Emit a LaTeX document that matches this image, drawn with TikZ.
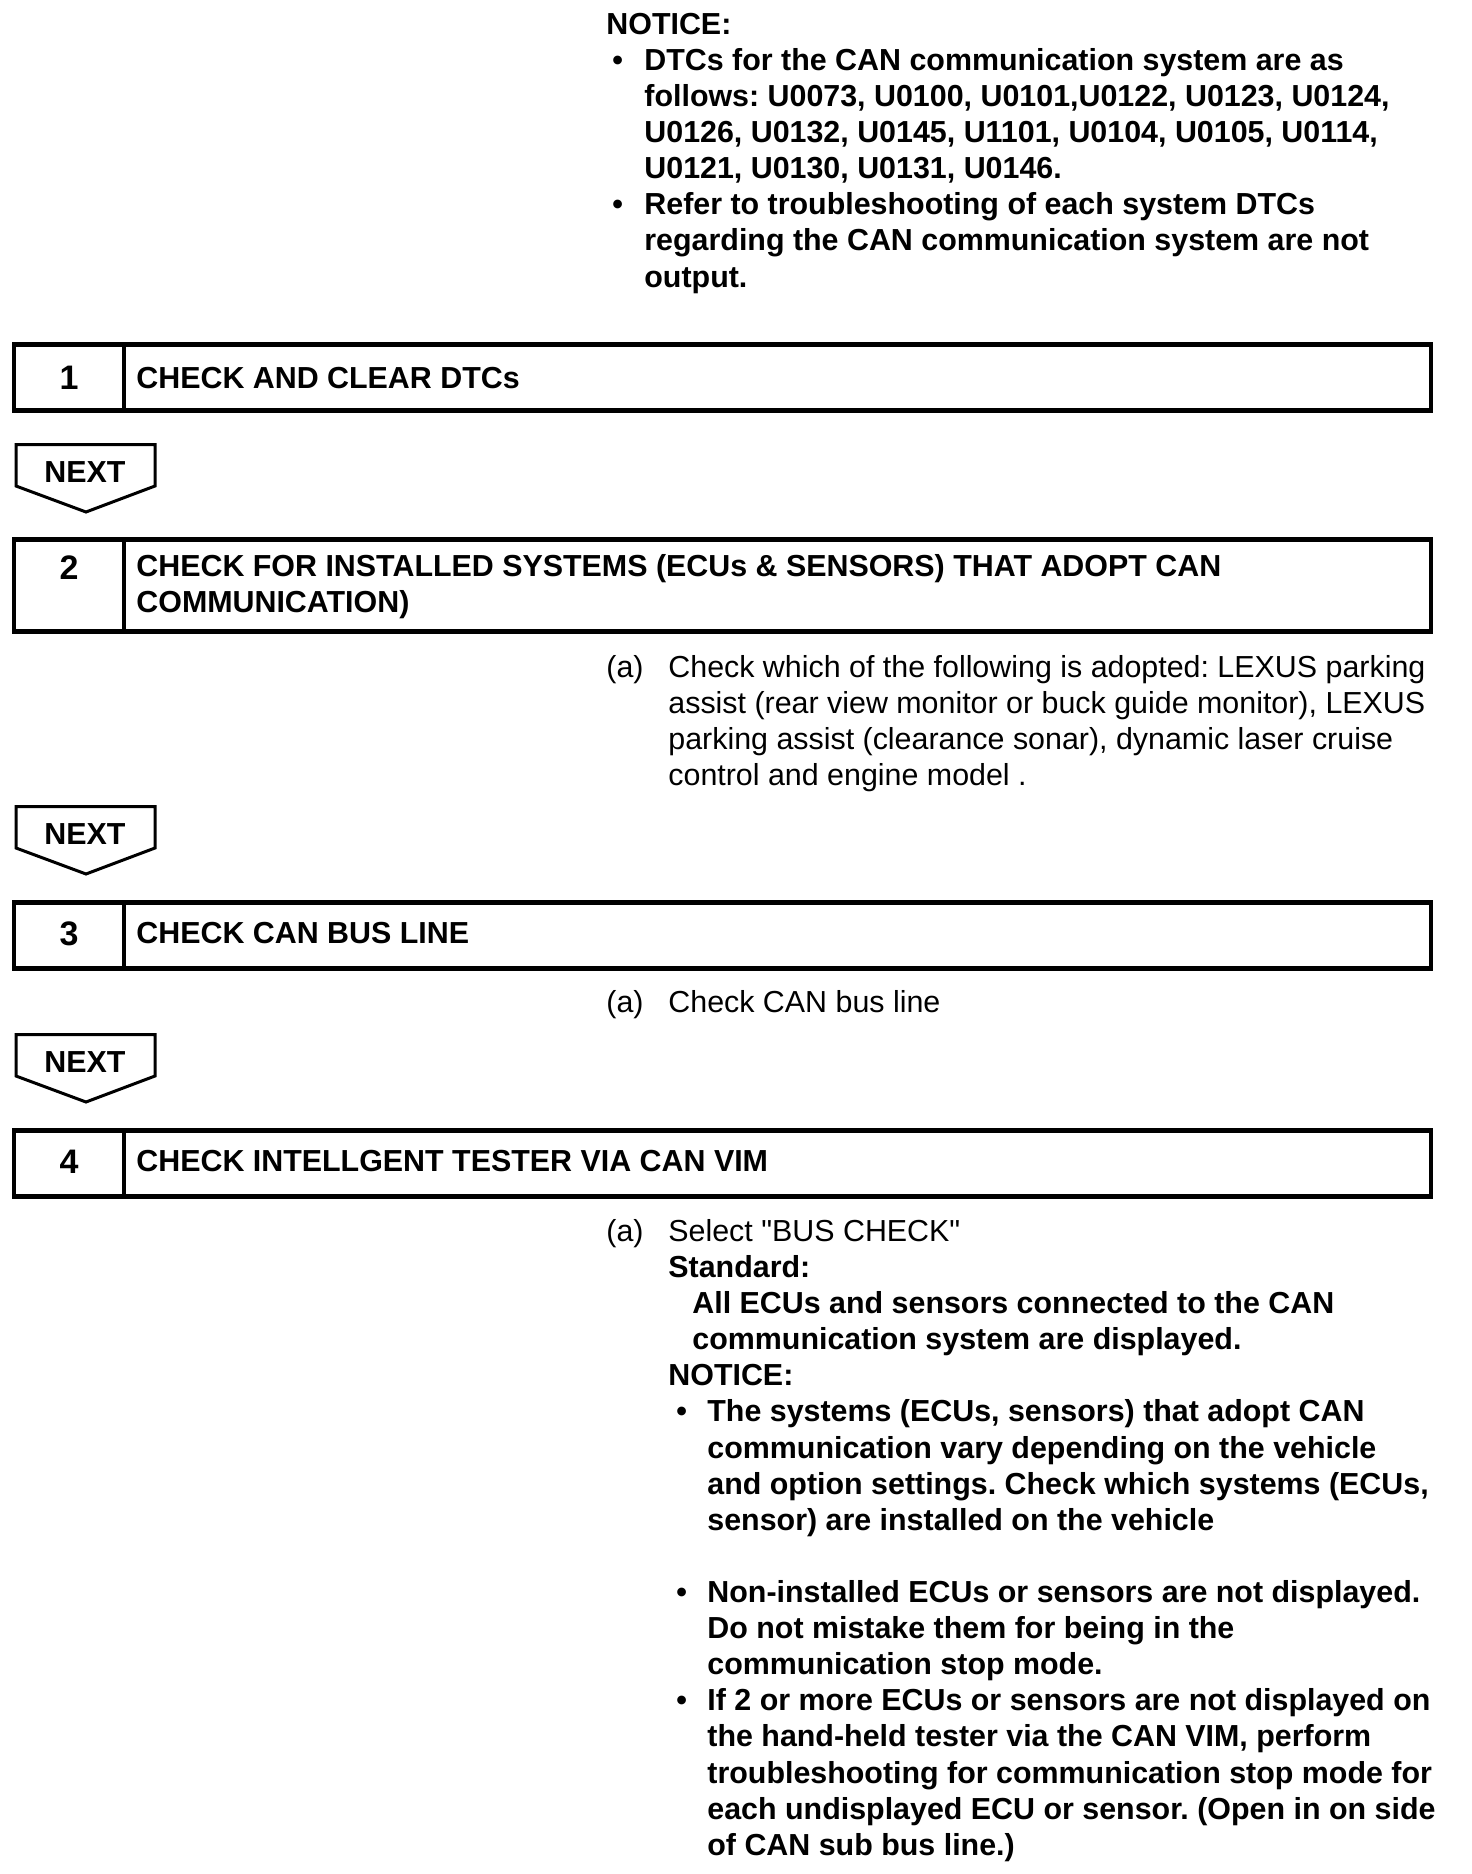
\documentclass[tikz,border=0pt]{standalone}
\usepackage{fontspec}
\setmainfont{Liberation Sans}[Ligatures=TeXOff]
\frenchspacing
\tikzset{
  frame/.style={line width=2.4pt, line join=miter},
  divider/.style={line width=2pt},
  nextshape/.style={line width=1.5pt, line join=miter},
  bt/.style={anchor=base west, inner sep=0pt, font=\bfseries\fontsize{15.2pt}{18pt}\selectfont},
  rt/.style={anchor=base west, inner sep=0pt, font=\fontsize{15.2pt}{18pt}\selectfont},
  num/.style={anchor=base, inner sep=0pt, font=\bfseries\fontsize{17pt}{18pt}\selectfont},
  nexttext/.style={anchor=base, inner sep=0pt, font=\bfseries\fontsize{15.2pt}{18pt}\selectfont},
}
\begin{document}
\begin{tikzpicture}[x=0.5pt,y=-0.5pt]
\useasboundingbox (0,0) rectangle (1472,1874);
% top notice
\node[bt] (n0) at (606,34) {NOTICE:};
\node[bt] (nb1) at (612,70) {•};
\node[bt] (n1) at (644,70) {DTCs for the CAN communication system are as};
\node[bt] (n2) at (644,106) {follows: U0073, U0100, U0101,U0122, U0123, U0124,};
\node[bt] (n3) at (644,142) {U0126, U0132, U0145, U1101, U0104, U0105, U0114,};
\node[bt] (n4) at (644,178) {U0121, U0130, U0131, U0146.};
\node[bt] (nb2) at (612,214) {•};
\node[bt] (n5) at (644,214) {Refer to troubleshooting of each system DTCs};
\node[bt] (n6) at (644,250) {regarding the CAN communication system are not};
\node[bt] (n7) at (644,287) {output.};
% step 1
\draw[frame] (14,344.5) rectangle (1431,410.5);
\draw[divider] (124,344.5) -- (124,410.5);
\node[num] (s1) at (69,389) {1};
\node[bt] (h1) at (136,388) {CHECK AND CLEAR DTCs};
% next 1
\draw[nextshape] (16,444.5) -- (155,444.5) -- (155,486) -- (86,512) -- (16,486) -- cycle;
\node[nexttext] (x1) at (85,482) {NEXT};
% step 2
\draw[frame] (14,539.5) rectangle (1431,631.5);
\draw[divider] (124,539.5) -- (124,631.5);
\node[num] (s2) at (69,579) {2};
\node[bt] (h2a) at (136,576) {CHECK FOR INSTALLED SYSTEMS (ECUs \& SENSORS) THAT ADOPT CAN};
\node[bt] (h2b) at (136,612) {COMMUNICATION)};
\node[rt] (a2) at (606,677) {(a)};
\node[rt] (a2l1) at (668,677) {Check which of the following is adopted: LEXUS parking};
\node[rt] (a2l2) at (668,713) {assist (rear view monitor or buck guide monitor), LEXUS};
\node[rt] (a2l3) at (668,749) {parking assist (clearance sonar), dynamic laser cruise};
\node[rt] (a2l4) at (668,785) {control and engine model .};
% next 2
\draw[nextshape] (16,806.5) -- (155,806.5) -- (155,848) -- (86,874) -- (16,848) -- cycle;
\node[nexttext] (x2) at (85,844) {NEXT};
% step 3
\draw[frame] (14,902.5) rectangle (1431,968.5);
\draw[divider] (124,902.5) -- (124,968.5);
\node[num] (s3) at (69,945) {3};
\node[bt] (h3) at (136,943) {CHECK CAN BUS LINE};
\node[rt] (a3) at (606,1012) {(a)};
\node[rt] (a3l1) at (668,1012) {Check CAN bus line};
% next 3
\draw[nextshape] (16,1034.5) -- (155,1034.5) -- (155,1076) -- (86,1102) -- (16,1076) -- cycle;
\node[nexttext] (x3) at (85,1072) {NEXT};
% step 4
\draw[frame] (14,1130.5) rectangle (1431,1196.5);
\draw[divider] (124,1130.5) -- (124,1196.5);
\node[num] (s4) at (69,1173) {4};
\node[bt] (h4) at (136,1171) {CHECK INTELLGENT TESTER VIA CAN VIM};
\node[rt] (a4) at (606,1241) {(a)};
\node[rt] (a4l1) at (668,1241) {Select "BUS CHECK"};
\node[bt] (a4l2) at (668,1277) {Standard:};
\node[bt] (a4l3) at (692,1313) {All ECUs and sensors connected to the CAN};
\node[bt] (a4l4) at (692,1349) {communication system are displayed.};
\node[bt] (a4l5) at (668,1385) {NOTICE:};
\node[bt] (m1b) at (676,1421) {•};
\node[bt] (m1a) at (707,1421) {The systems (ECUs, sensors) that adopt CAN};
\node[bt] (m1c) at (707,1458) {communication vary depending on the vehicle};
\node[bt] (m1d) at (707,1494) {and option settings. Check which systems (ECUs,};
\node[bt] (m1e) at (707,1530) {sensor) are installed on the vehicle};
\node[bt] (m2b) at (676,1602) {•};
\node[bt] (m2a) at (707,1602) {Non-installed ECUs or sensors are not displayed.};
\node[bt] (m2c) at (707,1638) {Do not mistake them for being in the};
\node[bt] (m2d) at (707,1674) {communication stop mode.};
\node[bt] (m3b) at (676,1710) {•};
\node[bt] (m3a) at (707,1710) {If 2 or more ECUs or sensors are not displayed on};
\node[bt] (m3c) at (707,1746) {the hand-held tester via the CAN VIM, perform};
\node[bt] (m3d) at (707,1783) {troubleshooting for communication stop mode for};
\node[bt] (m3e) at (707,1819) {each undisplayed ECU or sensor. (Open in on side};
\node[bt] (m3f) at (707,1855) {of CAN sub bus line.)};
\end{tikzpicture}
\end{document}
